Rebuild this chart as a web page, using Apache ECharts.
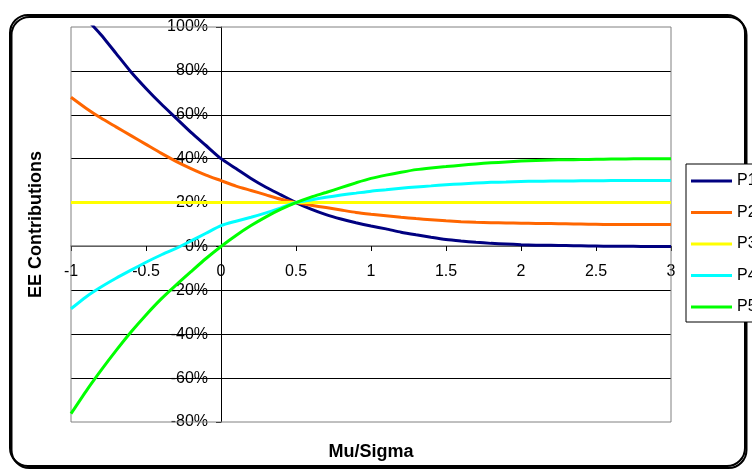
<!DOCTYPE html>
<html>
<head>
<meta charset="utf-8">
<script src="https://cdn.jsdelivr.net/npm/echarts@6/dist/echarts.min.js"></script>
<style>
html,body{margin:0;padding:0;background:#fff;}
#chart{width:752px;height:472px;}
</style>
</head>
<body>
<div id="chart"></div>
<script>
const xValues = [-1,-0.9,-0.8,-0.7,-0.6,-0.5,-0.4,-0.3,-0.2,-0.1,0,0.1,0.2,0.3,0.4,0.5,0.6,0.7,0.8,0.9,1,1.1,1.2,1.3,1.4,1.5,1.6,1.7,1.8,1.9,2,2.1,2.2,2.3,2.4,2.5,2.6,2.7,2.8,2.9,3];
const P1 = [113,104,96.5,88,79.5,72,65,58.5,52,46,40,35.5,31,27,23.5,20,17,14.5,12.5,10.8,9.3,8,6.5,5.3,4.2,3.2,2.5,1.9,1.4,1.1,0.8,0.6,0.5,0.4,0.3,0.2,0.1,0.1,0,0,0];
const P2 = [68,63,58.5,54.5,50.5,46.5,42.5,38.8,35.5,32.5,30,27.5,25.5,23.5,21.5,20,18.8,17.7,16.6,15.5,14.7,14,13.3,12.7,12.2,11.7,11.3,11,10.8,10.7,10.6,10.5,10.4,10.3,10.2,10.1,10,10,10,10,10];
const P3 = [20,20,20,20,20,20,20,20,20,20,20,20,20,20,20,20,20,20,20,20,20,20,20,20,20,20,20,20,20,20,20,20,20,20,20,20,20,20,20,20,20];
const P4 = [-28.4,-23,-18.5,-14.5,-10.8,-7.2,-3.9,-0.9,2.5,6,9.5,11.5,13.3,15.3,17.6,20,21.2,22.4,23.4,24.3,25.2,25.8,26.5,27.1,27.6,28.1,28.5,28.9,29.2,29.4,29.6,29.7,29.8,29.8,29.9,29.9,30,30,30,30,30];
const P5 = [-76.2,-66,-56.5,-47.5,-39,-31.2,-24,-17.6,-11.5,-5.5,0,5,9.5,13.5,17,20,22.5,24.6,26.8,29,31,32.5,33.8,35,35.8,36.4,37,37.6,38.1,38.5,38.9,39.2,39.4,39.5,39.6,39.7,39.8,39.9,40,40,40];
const seriesNames = ['P1','P2','P3','P4','P5'];
const seriesValues = [P1,P2,P3,P4,P5];
const seriesColors = ['#000080','#FF6600','#FFFF00','#00FFFF','#00FF00'];
const yTickFormat = '{value}%';

const chart = echarts.init(document.getElementById('chart'), null, {renderer:'canvas'});
const font = "'Liberation Sans', Arial, sans-serif";
chart.setOption({
  animation: false,
  backgroundColor: '#fff',
  textStyle: {fontFamily: font},
  graphic: [{
    type: 'rect', z: 0,
    shape: {x: 10, y: 15, width: 735, height: 451, r: 18},
    style: {fill: 'none', stroke: '#000', lineWidth: 2, shadowColor: '#000', shadowOffsetX: 1.5, shadowOffsetY: 2, shadowBlur: 0}
  }],
  grid: {left: 71, right: 81, top: 27, bottom: 50, show: true, borderColor: '#808080', borderWidth: 1,
         backgroundColor: 'transparent', z: 1, containLabel: false, outerBoundsMode: 'none'},
  legend: {
    orient: 'vertical', left: 686, top: 164, z: 10,
    padding: [9, 40, 7, 5],
    backgroundColor: '#fff', borderColor: '#000', borderWidth: 1,
    icon: 'rect', itemWidth: 41, itemHeight: 3, itemGap: 15.5,
    textStyle: {fontSize: 16, color: '#000', lineHeight: 16, fontFamily: font},
    data: seriesNames
  },
  xAxis: {
    type: 'value', min: -1, max: 3, interval: 0.5,
    position: 'bottom', offset: -176,
    name: 'Mu/Sigma', nameLocation: 'middle', nameGap: 206,
    nameTextStyle: {fontSize: 18, fontWeight: 'bold', color: '#000', fontFamily: font, verticalAlign: 'middle', lineHeight: 18},
    axisLine: {onZero: false, lineStyle: {color: '#808080', width: 1.5}},
    axisTick: {show: true, inside: false, length: 5, lineStyle: {color: '#000'}},
    axisLabel: {fontSize: 16, color: '#000', margin: 18, fontFamily: font},
    splitLine: {show: false}
  },
  yAxis: {
    type: 'value', min: -80, max: 100, interval: 20,
    position: 'left', offset: -150,
    name: 'EE Contributions', nameLocation: 'middle', nameGap: 185,
    nameTextStyle: {fontSize: 18, fontWeight: 'bold', color: '#000', fontFamily: font, verticalAlign: 'middle', lineHeight: 18},
    axisLine: {onZero: false, lineStyle: {color: '#000', width: 1}},
    axisTick: {show: true, inside: false, length: 5, lineStyle: {color: '#000'}},
    axisLabel: {fontSize: 16, color: '#000', margin: 13, formatter: yTickFormat, fontFamily: font},
    splitLine: {show: true, showMinLine: false, showMaxLine: false, lineStyle: {color: '#000', width: 1}}
  },
  series: seriesNames.map((n, i) => ({
    name: n, type: 'line', showSymbol: false, symbol: 'none',
    color: seriesColors[i], smooth: 0.2,
    lineStyle: {width: 3, color: seriesColors[i]},
    data: xValues.map((x, j) => [x, seriesValues[i][j]]),
    clip: true, z: 3
  }))
});
</script>
</body>
</html>
